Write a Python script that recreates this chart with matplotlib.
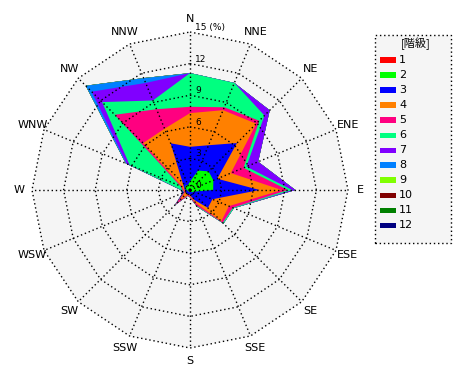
import matplotlib.pyplot as plt
import numpy as np
from matplotlib.patches import Rectangle

directions = ['N', 'NNE', 'NE', 'ENE', 'E', 'ESE', 'SE', 'SSE',
              'S', 'SSW', 'SW', 'WSW', 'W', 'WNW', 'NW', 'NNW']
classes = ['1', '2', '3', '4', '5', '6', '7', '8', '9', '10', '11', '12']
colors = ['#ff0000', '#00ff00', '#0000ff', '#ff8000', '#ff0080', '#00ff80',
          '#8000ff', '#0080ff', '#80ff00', '#800000', '#008000', '#000080']

# frequency (%) of each class per direction, N -> NNW clockwise
c1 = [0.1, 0.1, 0.1, 0.1, 0.1, 0.1, 0.1, 0.1, 0.1, 0.1, 0.1, 0.1, 0.1, 0.1, 0.1, 0.1]
c2 = [0.7, 1.9, 2.4, 2.3, 2.1, 0.3, 0.2, 0.1, 0.1, 0.1, 0.1, 0.1, 0.2, 0.4, 0.5, 0.4]
c3 = [3.3, 2.6, 3.8, 0.4, 4.4, 1.9, 2.1, 0.8, 0.3, 0.2, 0.3, 0.2, 0.2, 0.1, 0.4, 4.3]
c4 = [3.2, 3.6, 2.6, 1.4, 2.1, 1.7, 1.8, 0.3, 0.1, 0.1, 0.9, 0.1, 0.1, 0.2, 5.3, 1.5]
c5 = [0.6, 0.3, 0.4, 1.3, 0.6, 0.4, 0.2, 0.3, 0.1, 0.1, 0.6, 0.1, 0.1, 0.2, 3.8, 2.0]
c6 = [3.2, 2.5, 0.7, 0.3, 0.4, 0.1, 0.1, 0.1, 0.0, 0.0, 0.0, 0.0, 0.1, 5.2, 1.7, 0.9]
c7 = [0.0, 0.0, 0.7, 1.2, 0.3, 0.0, 0.0, 0.0, 0.0, 0.0, 0.0, 0.0, 0.0, 0.3, 1.4, 1.8]
c8 = [0.0, 0.0, 0.0, 0.0, 0.0, 0.0, 0.0, 0.0, 0.0, 0.0, 0.0, 0.0, 0.0, 0.1, 0.8, 0.5]
c9 = [0.0, 0.0, 0.0, 0.0, 0.0, 0.0, 0.0, 0.0, 0.0, 0.0, 0.0, 0.0, 0.0, 0.0, 0.0, 0.0]
c10 = [0.0, 0.0, 0.0, 0.0, 0.0, 0.0, 0.0, 0.0, 0.0, 0.0, 0.0, 0.0, 0.0, 0.0, 0.0, 0.0]
c11 = [0.0, 0.0, 0.0, 0.0, 0.0, 0.0, 0.0, 0.0, 0.0, 0.0, 0.0, 0.0, 0.0, 0.0, 0.0, 0.0]
c12 = [0.0, 0.0, 0.0, 0.0, 0.0, 0.0, 0.0, 0.0, 0.0, 0.0, 0.1, 0.2, 0.1, 0.0, 0.0, 0.0]

ring_vals = [3, 6, 9, 12, 15]

freq = np.array([c1, c2, c3, c4, c5, c6, c7, c8, c9, c10, c11, c12])
cum = np.cumsum(freq, axis=0)
ang = np.deg2rad(np.arange(len(directions)) * 22.5)
closed = np.append(ang, ang[0])

fig = plt.figure(figsize=(4.7, 3.8), dpi=100)
ax = fig.add_axes([0, 0, 380 / 470, 1])
lim = 190 / (158 / 15)
ax.set_xlim(-lim, lim)
ax.set_ylim(-lim, lim)
ax.set_aspect('equal')
ax.axis('off')

# plot background
ax.fill(15 * np.sin(closed), 15 * np.cos(closed), color='#f5f5f5', lw=0, zorder=0)

# stacked classes, largest cumulative first
for k in range(len(classes) - 1, -1, -1):
    r = np.append(cum[k], cum[k][0])
    ax.fill(r * np.sin(closed), r * np.cos(closed), color=colors[k], lw=0, zorder=1)

dots = (0, (1, 2))
for rv in ring_vals:
    ax.plot(rv * np.sin(closed), rv * np.cos(closed), color='k', ls=dots, lw=1, zorder=2)
for a in ang:
    ax.plot([0, 15 * np.sin(a)], [0, 15 * np.cos(a)], color='k', ls=dots, lw=1, zorder=2)

for a, d in zip(ang, directions):
    ax.text(16.2 * np.sin(a), 16.2 * np.cos(a), d, ha='center', va='center', fontsize=8, zorder=3)

ax.text(0.5, 0.0, '0', ha='left', va='bottom', fontsize=6.5, zorder=3)
for rv in ring_vals:
    lab = str(rv) + ' (%)' if rv == 15 else str(rv)
    ax.text(0.5, rv, lab, ha='left', va='bottom', fontsize=6.5, zorder=3)

# legend box
W, H = 470, 380
fig.patches.append(Rectangle((375 / W, 1 - 243 / H), 76 / W, 208 / H, transform=fig.transFigure,
                             fc='#f5f5f5', ec='k', ls=dots, lw=1))
fig.text(416 / W, 1 - 44 / H, '[階級]', ha='center', va='center', fontsize=8,
         family=['Noto Sans CJK JP', 'DejaVu Sans'])
for i, (lab, col) in enumerate(zip(classes, colors)):
    y = 60 + 15 * i
    fig.patches.append(Rectangle((380 / W, 1 - (y + 2.5) / H), 16 / W, 5 / H,
                                 transform=fig.transFigure, fc=col, ec='none'))
    fig.text(399 / W, 1 - y / H, lab, ha='left', va='center', fontsize=8)

fig.savefig('out.png', dpi=100)
